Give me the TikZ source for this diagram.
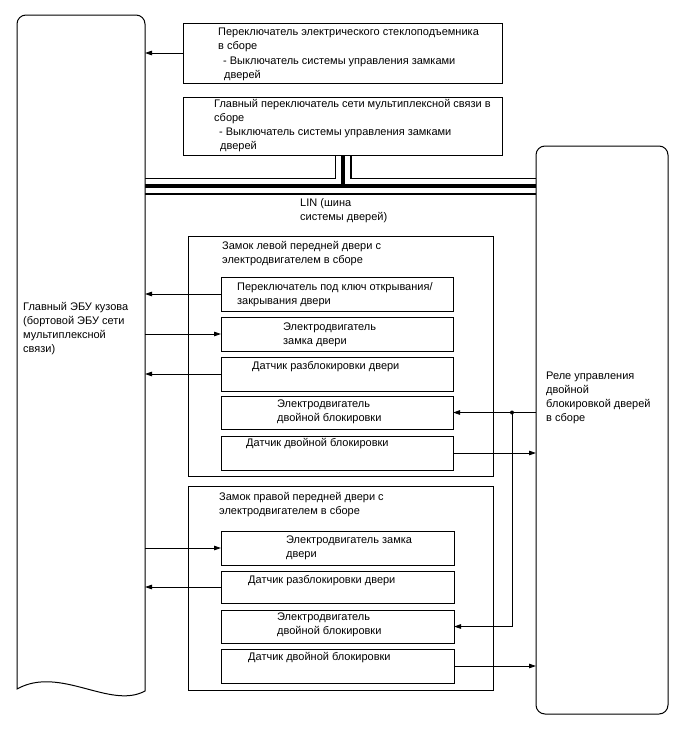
\documentclass[tikz,border=0pt]{standalone}
\usepackage{fontspec}
\setmainfont{Liberation Sans}
\usetikzlibrary{arrows.meta}
\begin{document}
\begin{tikzpicture}[x=1pt,y=-1pt,
  box/.style={draw,line width=1pt,inner sep=0pt,outer sep=0pt},
  txt/.style={font=\fontsize{11}{13.8}\selectfont,align=left,inner sep=0pt,anchor=base west},
  conn/.style={line width=0.8pt,-{Triangle[length=7pt,width=4.5pt]}},
  wire/.style={line width=0.8pt}]
\useasboundingbox (0,0) rectangle (688,755);
% bus
\coordinate (bt) at (343,155.5);
\coordinate (bj) at (343,186);
\coordinate (bl) at (145,186);
\coordinate (br) at (537,186);
\draw[line width=17pt] (bt) -- (bj) (bl) -- (br);
\draw[line width=14.5pt,white] (bt) -- (bj) (bl) -- (br);
\draw[line width=4pt] (bt) -- (bj) (bl) -- (br);
% left shape
\node[inner sep=0pt,outer sep=0pt,minimum width=128pt,minimum height=676pt,anchor=north west] (L) at (17,15) {};
\draw[line width=1pt,fill=white] (17,689) [rounded corners=9pt] -- (17,15) -- (145,15) [sharp corners] -- (145,691)
  .. controls (110,710) and (60,665) .. (17,689) -- cycle;
% right shape
\node[box,fill=white,rounded corners=9pt,minimum width=132pt,minimum height=568pt] (R) at (602,430) {};
% top boxes
\node[box,minimum width=319pt,minimum height=60pt] (t1) at (342.5,53) {};
\node[box,fill=white,minimum width=319pt,minimum height=58pt] (t2) at (342.5,126) {};
% group boxes
\node[box,minimum width=305pt,minimum height=240pt] (G1) at (340.5,356) {};
\node[box,minimum width=305pt,minimum height=204pt] (G2) at (340.5,588) {};
% inner boxes
\node[box,minimum width=232pt,minimum height=34pt] (a) at (337,294) {};
\node[box,minimum width=232pt,minimum height=34pt] (b) at (337,334) {};
\node[box,minimum width=232pt,minimum height=34pt] (c) at (337,374) {};
\node[box,minimum width=232pt,minimum height=33pt] (d) at (337,412.5) {};
\node[box,minimum width=232pt,minimum height=34pt] (e) at (337,453) {};
\node[box,minimum width=233pt,minimum height=34pt] (f) at (337.5,548) {};
\node[box,minimum width=233pt,minimum height=32pt] (g) at (337.5,587) {};
\node[box,minimum width=233pt,minimum height=33pt] (h) at (337.5,626.5) {};
\node[box,minimum width=233pt,minimum height=34pt] (i) at (337.5,666) {};
% texts (anchor = baseline of last line)
\node[txt] (t1a) at (218,49.6) {Переключатель электрического стеклоподъемника\\в сборе};
\node[txt] (t1b) at (223,78.6) {- Выключатель системы управления замками\\\hspace*{1pt}дверей};
\node[txt] (t2a) at (214,121.6) {Главный переключатель сети мультиплексной связи в\\сборе};
\node[txt] (t2b) at (219,149.6) {- Выключатель системы управления замками\\\hspace*{1pt}дверей};
\node[txt] (lin) at (300,220.6) {LIN (шина\\системы дверей)};
\node[txt] (Lt) at (23,352.2) {Главный ЭБУ кузова\\(бортовой ЭБУ сети\\мультиплексной\\связи)};
\node[txt] (Rt) at (546,421.2) {Реле управления\\двойной\\блокировкой дверей\\в сборе};
\node[txt] (G1t) at (222,263.6) {Замок левой передней двери с\\электродвигателем в сборе};
\node[txt] (G2t) at (219,514.6) {Замок правой передней двери с\\электродвигателем в сборе};
\node[txt] (at) at (237,304.6) {Переключатель под ключ открывания/\\закрывания двери};
\node[txt] (btx) at (283,344.6) {Электродвигатель\\замка двери};
\node[txt] (ct) at (252,369.8) {Датчик разблокировки двери};
\node[txt] (dt) at (277,421.6) {Электродвигатель\\двойной блокировки};
\node[txt] (et) at (246,446.8) {Датчик двойной блокировки};
\node[txt] (ft) at (286,557.6) {Электродвигатель замка\\двери};
\node[txt] (gt) at (248,583.8) {Датчик разблокировки двери};
\node[txt] (ht) at (277,634.6) {Электродвигатель\\двойной блокировки};
\node[txt] (it) at (248,660.8) {Датчик двойной блокировки};
% connectors
\draw[conn] (t1.west) -- (t1.west -| L.east);
\draw[conn] (a.west) -- (a.west -| L.east);
\draw[conn] (b.west -| L.east) -- (b.west);
\draw[conn] (c.west) -- (c.west -| L.east);
\draw[conn] (d.east -| R.west) -- (d.east);
\draw[conn] (e.east) -- (e.east -| R.west);
\draw[conn] (f.west -| L.east) -- (f.west);
\draw[conn] (g.west) -- (g.west -| L.east);
\coordinate (jn) at (512,412.5);
\fill (jn) circle (2pt);
\draw[conn] (jn) |- (h.east);
\draw[conn] (i.east) -- (i.east -| R.west);
\end{tikzpicture}
\end{document}
